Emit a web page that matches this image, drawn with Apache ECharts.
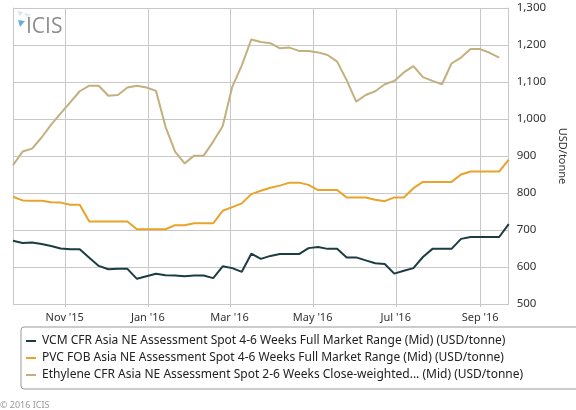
<!DOCTYPE html>
<html>
<head>
<meta charset="utf-8">
<script src="https://cdn.jsdelivr.net/npm/echarts@6/dist/echarts.min.js"></script>
<style>html,body{margin:0;padding:0;background:#fff;}#c{width:576px;height:410px;}</style>
</head>
<body>
<div id="c"></div>
<script>
const weeks = ['2015-09-24','2015-10-01','2015-10-08','2015-10-15','2015-10-22','2015-10-29','2015-11-05','2015-11-12','2015-11-19','2015-11-26','2015-12-03','2015-12-10','2015-12-17','2015-12-24','2015-12-31','2016-01-07','2016-01-14','2016-01-21','2016-01-28','2016-02-04','2016-02-11','2016-02-18','2016-02-25','2016-03-03','2016-03-10','2016-03-17','2016-03-24','2016-03-31','2016-04-07','2016-04-14','2016-04-21','2016-04-28','2016-05-05','2016-05-12','2016-05-19','2016-05-26','2016-06-02','2016-06-09','2016-06-16','2016-06-23','2016-06-30','2016-07-07','2016-07-14','2016-07-21','2016-07-28','2016-08-04','2016-08-11','2016-08-18','2016-08-25','2016-09-01','2016-09-08','2016-09-15','2016-09-22'];

const vcm = [671,665,666,662,657,650,648,648,625,603,594,595,595,568,575,582,578,577,575,577,577,570,602,597,587,636,622,630,635,635,635,651,654,649,649,626,626,618,610,608,582,590,597,627,649,649,649,676,681,681,681,681,716];

const pvc = [790,780,779,779,775,774,768,768,723,723,723,723,723,702,702,702,702,713,713,718,718,718,752,762,772,797,806,814,820,828,828,822,808,808,808,788,788,788,782,778,788,788,813,830,830,830,830,850,858,858,858,858,890];

const ethylene = [875,912,920,950,985,1015,1045,1075,1090,1090,1063,1065,1085,1090,1085,1076,979,912,880,901,901,939,981,1087,1145,1215,1208,1205,1191,1193,1184,1184,1180,1173,1155,1105,1047,1065,1075,1094,1103,1126,1143,1113,1103,1094,1150,1166,1189,1189,1179,1166];

const seriesNames = [
  'VCM CFR Asia NE Assessment Spot 4-6 Weeks Full Market Range (Mid) (USD/tonne)',
  'PVC FOB Asia NE Assessment Spot 4-6 Weeks Full Market Range (Mid) (USD/tonne)',
  'Ethylene CFR Asia NE Assessment Spot 2-6 Weeks Close-weighted... (Mid) (USD/tonne)'
];

const tickDates = ['2015-11-01','2016-01-01','2016-03-01','2016-05-01','2016-07-01','2016-09-01'];
const tickLabels = ["Nov '15","Jan '16","Mar '16","May '16","Jul '16","Sep '16"];
const xMinDate = '2015-09-24';
const xMaxDate = '2016-09-22';
const yTicks = [500,600,700,800,900,1000,1100,1200,1300];

function t(s){const p=s.split('-').map(Number);return Date.UTC(p[0],p[1]-1,p[2]);}
function pairs(vals){return vals.map((v,i)=>[t(weeks[i]),v]);}
const tickTs = tickDates.map(t);
const yMin = yTicks[0], yMax = yTicks[yTicks.length-1];

const FONT = 'Noto Sans';
const GRID = '#c8c8c8';

function labelFor(v){
  for (let i=0;i<tickTs.length;i++){ if (Math.abs(tickTs[i]-v) < 43200000) return tickLabels[i]; }
  return '';
}

const chart = echarts.init(document.getElementById('c'), null, {renderer:'canvas'});
chart.setOption({
  animation:false,
  backgroundColor:'#fff',
  textStyle:{fontFamily:FONT},
  grid:{left:13,right:57,top:8,bottom:106,show:false,containLabel:false},
  xAxis:{
    type:'value',
    min:t(xMinDate),max:t(xMaxDate),
    axisLine:{show:false},axisTick:{show:false},splitLine:{show:false},
    axisLabel:{customValues:tickTs,margin:8,color:'#333',fontSize:11,fontFamily:FONT,
      formatter:function(v){return labelFor(v);}}
  },
  yAxis:[{
    type:'value',position:'right',
    min:yMin,max:yMax,interval:100,
    name:'USD/tonne',nameLocation:'middle',nameRotate:-90,nameGap:44,
    nameTextStyle:{color:'#333',fontSize:11,fontFamily:FONT},
    axisLine:{show:true,lineStyle:{color:GRID,width:1}},axisTick:{show:false},
    splitLine:{show:true,lineStyle:{color:GRID,width:1}},
    axisLabel:{margin:8,color:'#333',fontSize:11.5,fontFamily:FONT,
      formatter:function(v){return v.toLocaleString('en-US');}}
  },{
    type:'value',position:'left',
    min:yMin,max:yMax,interval:100,
    axisLine:{show:true,lineStyle:{color:GRID,width:1}},axisTick:{show:false},
    axisLabel:{show:false},splitLine:{show:false}
  }],
  legend:{
    orient:'vertical',left:21,top:327,
    padding:[8,80,8,5],
    itemGap:5,itemWidth:10,itemHeight:2,
    icon:'rect',
    borderColor:'#999',borderWidth:1,borderRadius:3,
    textStyle:{color:'#222',fontSize:12,fontFamily:FONT,padding:[0,0,0,1]},
    data:seriesNames
  },
  series:[
    {name:seriesNames[0],type:'line',data:pairs(vcm),showSymbol:false,symbol:'none',lineStyle:{color:'#1b3c43',width:2},itemStyle:{color:'#1b3c43'},z:4},
    {name:seriesNames[1],type:'line',data:pairs(pvc),showSymbol:false,symbol:'none',lineStyle:{color:'#e9a22b',width:2},itemStyle:{color:'#e9a22b'},z:3},
    {name:seriesNames[2],type:'line',data:pairs(ethylene),showSymbol:false,symbol:'none',lineStyle:{color:'#c3b07e',width:2},itemStyle:{color:'#c3b07e'},z:2}
  ]
});

// vertical gridlines at the tick dates, positioned through the chart's own scales
const topPx = chart.convertToPixel({xAxisIndex:0,yAxisIndex:0},[tickTs[0],yMax])[1];
const botPx = chart.convertToPixel({xAxisIndex:0,yAxisIndex:0},[tickTs[0],yMin])[1];
const vLines = tickTs.map(v=>{
  const x = Math.round(chart.convertToPixel({xAxisIndex:0},v)) + 0.5;
  return {type:'line',silent:true,z:1,shape:{x1:x,y1:topPx,x2:x,y2:botPx+3},style:{stroke:GRID,lineWidth:1}};
});
chart.setOption({
  graphic:[
    {type:'polygon',shape:{points:[[17,11],[23,12],[20,16]]},style:{fill:'#d6e6f0'}},
    {type:'polygon',shape:{points:[[24,13],[31,14],[27,18]]},style:{fill:'#e2ecf2'}},
    {type:'polygon',shape:{points:[[18,20],[25,21],[20,27]]},style:{fill:'#6aaed6'}},
    {type:'text',left:26,top:17,style:{text:'ICIS',fill:'#8e8e8e',fontSize:21,fontFamily:'Open Sans'}},
    {type:'text',left:0,top:401,style:{text:'© 2016 ICIS',fill:'#999',fontSize:9,fontFamily:FONT}}
  ].concat(vLines)
});
</script>
</body>
</html>
